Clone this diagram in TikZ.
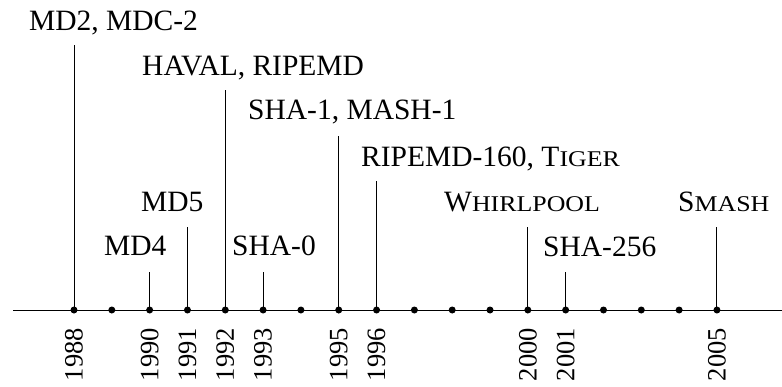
\documentclass[tikz,border=0pt]{standalone}
\usepackage{fontspec}
\setmainfont{Liberation Serif}
\newfontfamily\scfont[FakeStretch=1.15]{Liberation Serif}
\newcommand{\smc}[1]{{\scfont\fontsize{22.5}{24}\selectfont #1}}
\begin{document}
\begin{tikzpicture}[x=1pt,y=-1pt,
  lbl/.style={anchor=base west, inner sep=0pt, font=\fontsize{29.5}{31}\selectfont},
  yr/.style={anchor=east, rotate=90, inner sep=0pt, font=\fontsize{26.5}{30}\selectfont},
  dot/.style={circle, fill=black, inner sep=0pt, minimum size=7pt},
  tickline/.style={line width=0.9pt},
  axisline/.style={line width=1pt}]
\useasboundingbox (0,0) rectangle (782,386);
\coordinate (axL) at (13,310);
\coordinate (axR) at (782,310);
\draw[axisline] (axL) -- (axR);
\foreach \y in {1988,...,2005}{
  \pgfmathsetmacro{\xx}{74+37.82*(\y-1988)}
  \node[dot] (d\y) at (\xx,310) {};
}
\foreach \y in {1988,1990,1991,1992,1993,1995,1996,2000,2001,2005}{
  \node[yr] (y\y) at ([yshift=-18pt]d\y.center) {\y};
}
% labels
\node[lbl] (l1988) at (29,30.7) {MD2, MDC-2};
\node[lbl] (l1992) at (142,75) {HAVAL, RIPEMD};
\node[lbl] (l1995) at (248,119) {SHA-1, MASH-1};
\node[lbl] (l1996) at (361,166) {RIPEMD-160, T\smc{IGER}};
\node[lbl] (l1991) at (141,211) {MD5};
\node[lbl] (l2000) at (444,211) {W\smc{HIRLPOOL}};
\node[lbl] (l2005) at (678,211) {S\smc{MASH}};
\node[lbl] (l1990) at (104,255) {MD4};
\node[lbl] (l1993) at (232,255) {SHA-0};
\node[lbl] (l2001) at (543,256) {SHA-256};
% line tops
\coordinate (t1988) at (d1988 |- 0,45);
\coordinate (t1992) at (d1992 |- 0,90);
\coordinate (t1995) at (d1995 |- 0,136);
\coordinate (t1996) at (d1996 |- 0,181);
\coordinate (t1991) at (d1991 |- 0,227);
\coordinate (t2000) at (d2000 |- 0,227);
\coordinate (t2005) at (d2005 |- 0,227);
\coordinate (t1990) at (d1990 |- 0,272);
\coordinate (t1993) at (d1993 |- 0,272);
\coordinate (t2001) at (d2001 |- 0,272);
\foreach \y in {1988,1990,1991,1992,1993,1995,1996,2000,2001,2005}{
  \draw[tickline] (d\y.center) -- (t\y);
}
\end{tikzpicture}
\end{document}
